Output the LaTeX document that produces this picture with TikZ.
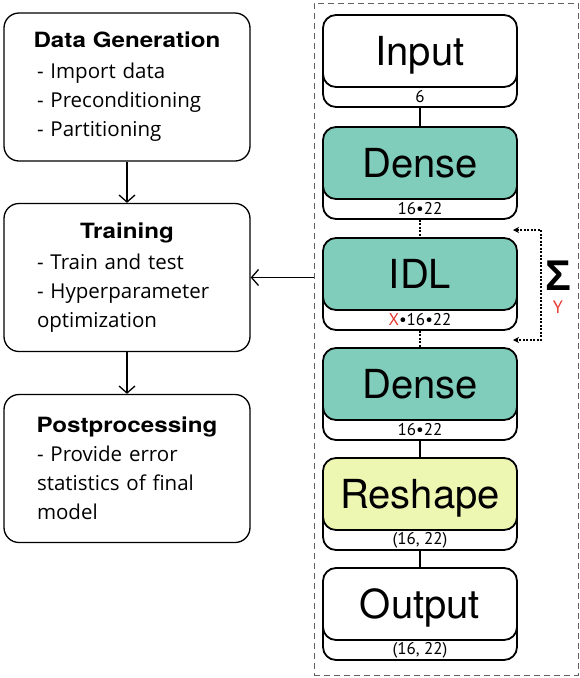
\documentclass[tikz,border=0pt]{standalone}
\usepackage{fontspec}
\setmainfont{TeX Gyre Heros}
\newfontfamily\bodyfont{Open Sans}
\newfontfamily\titlefont[FakeStretch=1.15]{TeX Gyre Heros}
\newfontfamily\dimfont{PT Sans}
\newfontfamily\symfont{Liberation Sans}
\usetikzlibrary{arrows.meta, positioning, calc}
\definecolor{densegreen}{HTML}{80CDBB}
\definecolor{reshapeyellow}{HTML}{EDF7B2}
\definecolor{dimred}{HTML}{E8382F}

\begin{document}
\begin{tikzpicture}[x=1pt, y=-1pt,
  stage/.style={draw, rounded corners=15pt, line width=1.3pt, minimum width=246pt,
    minimum height=148pt, text width=180pt, align=left, inner sep=0pt,
    font=\bodyfont\fontsize{20.5}{29}\selectfont},
  layer/.style={draw, rounded corners=13pt, line width=1.8pt, minimum width=194pt,
    minimum height=72pt, inner sep=0pt},
  dimlabel/.style={font=\dimfont\fontsize{17}{17}\selectfont, inner sep=0pt},
  flow/.style={-{Straight Barb[length=7pt, width=16pt]}, line width=1.3pt},
  link/.style={line width=1.8pt},
  dlink/.style={line width=1.8pt, dash pattern=on 2pt off 1.5pt},
  recur/.style={{Stealth[length=6pt, width=6pt]}-{Stealth[length=6pt, width=6pt]},
    line width=1.8pt, dash pattern=on 2pt off 1.5pt}]

\useasboundingbox (0,0) rectangle (580,678);

% ---- network frame ------------------------------------------------------
\node[draw=gray!75!black, line width=1pt, dash pattern=on 6pt off 4pt,
  minimum width=264pt, minimum height=672pt, inner sep=0pt] (net) at (446,339) {};

% ---- workflow stages ----------------------------------------------------
\node[stage] (gen) at (127,87)
  {\makebox[\linewidth]{\titlefont\bfseries\fontsize{21}{29}\selectfont Data Generation}\\[2pt]
   - Import data\\ - Preconditioning\\ - Partitioning};
\node[stage] (train) at (127,277.5)
  {\makebox[\linewidth]{\titlefont\bfseries\fontsize{21}{29}\selectfont Training}\\[2pt]
   - Train and test\\ - Hyperparameter\\ optimization};
\node[stage] (post) at (127,468.5)
  {\makebox[\linewidth]{\titlefont\bfseries\fontsize{21}{29}\selectfont Postprocessing}\\
   - Provide error\\ statistics of final\\ model};

\draw[flow] (gen) -- (train);
\draw[flow] (train) -- (post);
\draw[flow] (net.west |- train.east) -- (train.east);

% ---- layers -------------------------------------------------------------
\foreach \nm/\yt/\col/\txt/\lab in {inp/15/white/Input/6,
    den1/127/densegreen/Dense/16•22,
    idl/238/densegreen/IDL/{\textcolor{dimred}{X}•16•22},
    den2/348/densegreen/Dense/16•22,
    resh/458/reshapeyellow/Reshape/{(16, 22)},
    out/568/white/Output/{(16, 22)}} {
  \node[layer, fill=white] (\nm-b) at (420,\yt+56) {};
  \node[layer, fill=\col, text height=28pt, text depth=0pt,
    font=\fontsize{40}{40}\selectfont] (\nm) at (420,\yt+36) {\txt};
  \node[dimlabel] (\nm-d) at (420,\yt+82) {\lab};
}
\draw[link] (inp-b.south) -- (den1.north);
\draw[dlink] (den1-b.south) -- (idl.north);
\draw[dlink] (idl-b.south) -- (den2.north);
\draw[link] (den2-b.south) -- (resh.north);
\draw[link] (resh-b.south) -- (out.north);

% ---- recurrence over Y --------------------------------------------------
\coordinate (rtop) at (513,230);
\coordinate (rbot) at (513,340);
\draw[recur] (rtop) -- ++(28,0) -- ++(0,110) -- (rbot);
\node[font=\symfont\bfseries\fontsize{43}{43}\selectfont, inner sep=0pt,
  text height=31pt, text depth=0pt] (sum) at (558,275) {Σ};
\node[dimlabel, text=dimred, font=\dimfont\fontsize{18}{18}\selectfont,
  text height=13pt, text depth=0pt] (ylab) at (558,307) {Y};
\end{tikzpicture}
\end{document}
